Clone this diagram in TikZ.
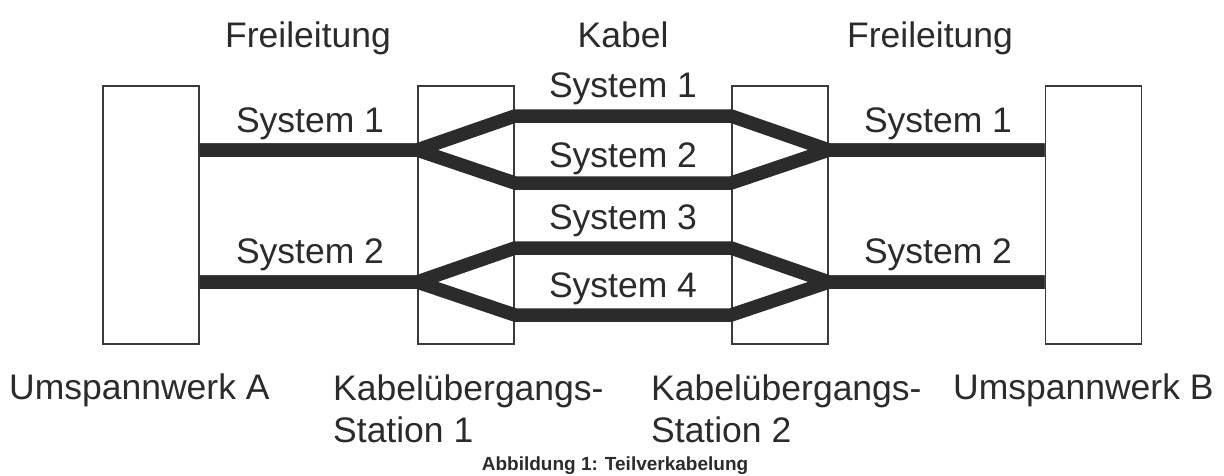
\documentclass[tikz,border=0pt]{standalone}
\usepackage{fontspec}
\setmainfont{Liberation Sans}
\definecolor{ink}{HTML}{2B2B2B}
\definecolor{boxline}{HTML}{3A3A3A}
\begin{document}
\begin{tikzpicture}[x=1pt,y=-1pt,
  station/.style={draw=boxline,line width=1.8pt,fill=white,inner sep=0pt,minimum width=96pt,minimum height=258pt},
  cable/.style={draw=ink,line width=13.5pt,line join=miter,line cap=butt},
  lbl/.style={text=ink,font=\fontsize{35.5}{42}\selectfont,inner sep=0pt,anchor=base},
  lbll/.style={lbl,anchor=base west,align=left},
  figcaption/.style={text=ink,font=\fontsize{19}{22}\selectfont\bfseries,inner sep=0pt,anchor=base}]
\useasboundingbox (0,0) rectangle (1224,475);
% boxes
\node[station] (A)  at (151,215) {};
\node[station] (K1) at (466,215) {};
\node[station] (K2) at (780,215) {};
\node[station] (B)  at (1093.5,215) {};
% junction coordinates
\coordinate (a1) at (A.east |- 0,150);
\coordinate (a2) at (A.east |- 0,282);
\coordinate (k1a) at (K1.west |- 0,150);
\coordinate (k1b) at (K1.west |- 0,282);
\coordinate (c1l) at (K1.east |- 0,116);
\coordinate (c2l) at (K1.east |- 0,183);
\coordinate (c3l) at (K1.east |- 0,248);
\coordinate (c4l) at (K1.east |- 0,315);
\coordinate (c1r) at (K2.west |- 0,116);
\coordinate (c2r) at (K2.west |- 0,183);
\coordinate (c3r) at (K2.west |- 0,248);
\coordinate (c4r) at (K2.west |- 0,315);
\coordinate (k2a) at (K2.east |- 0,150);
\coordinate (k2b) at (K2.east |- 0,282);
\coordinate (b1) at (B.west |- 0,150);
\coordinate (b2) at (B.west |- 0,282);
% cables
\draw[cable] (a1) -- (k1a) -- (c1l) -- (c1r) -- (k2a) -- (b1);
\draw[cable] (a1) -- (k1a) -- (c2l) -- (c2r) -- (k2a) -- (b1);
\draw[cable] (a2) -- (k1b) -- (c3l) -- (c3r) -- (k2b) -- (b2);
\draw[cable] (a2) -- (k1b) -- (c4l) -- (c4r) -- (k2b) -- (b2);
% top labels
\node[lbl] (t1) at (308,47) {Freileitung};
\node[lbl] (t2) at (623,47) {Kabel};
\node[lbl] (t3) at (930,47) {Freileitung};
% system labels
\node[lbl] (l1) at (310,132) {System 1};
\node[lbl] (l2) at (310,263) {System 2};
\node[lbl] (m1) at (623,97) {System 1};
\node[lbl] (m2) at (623,167) {System 2};
\node[lbl] (m3) at (623,229) {System 3};
\node[lbl] (m4) at (623,297) {System 4};
\node[lbl] (r1) at (938,132) {System 1};
\node[lbl] (r2) at (938,263) {System 2};
% bottom labels
\node[lbll] (uA) at (9,399) {Umspannwerk A};
\node[lbll] (s1) at (333,442) {Kabelübergangs-\\Station 1};
\node[lbll] (s2) at (651,442) {Kabelübergangs-\\Station 2};
\node[lbll] (uB) at (953,399) {Umspannwerk B};
\node[figcaption] (fig) at (615,470) {Abbildung 1: Teilverkabelung};
\end{tikzpicture}
\end{document}
